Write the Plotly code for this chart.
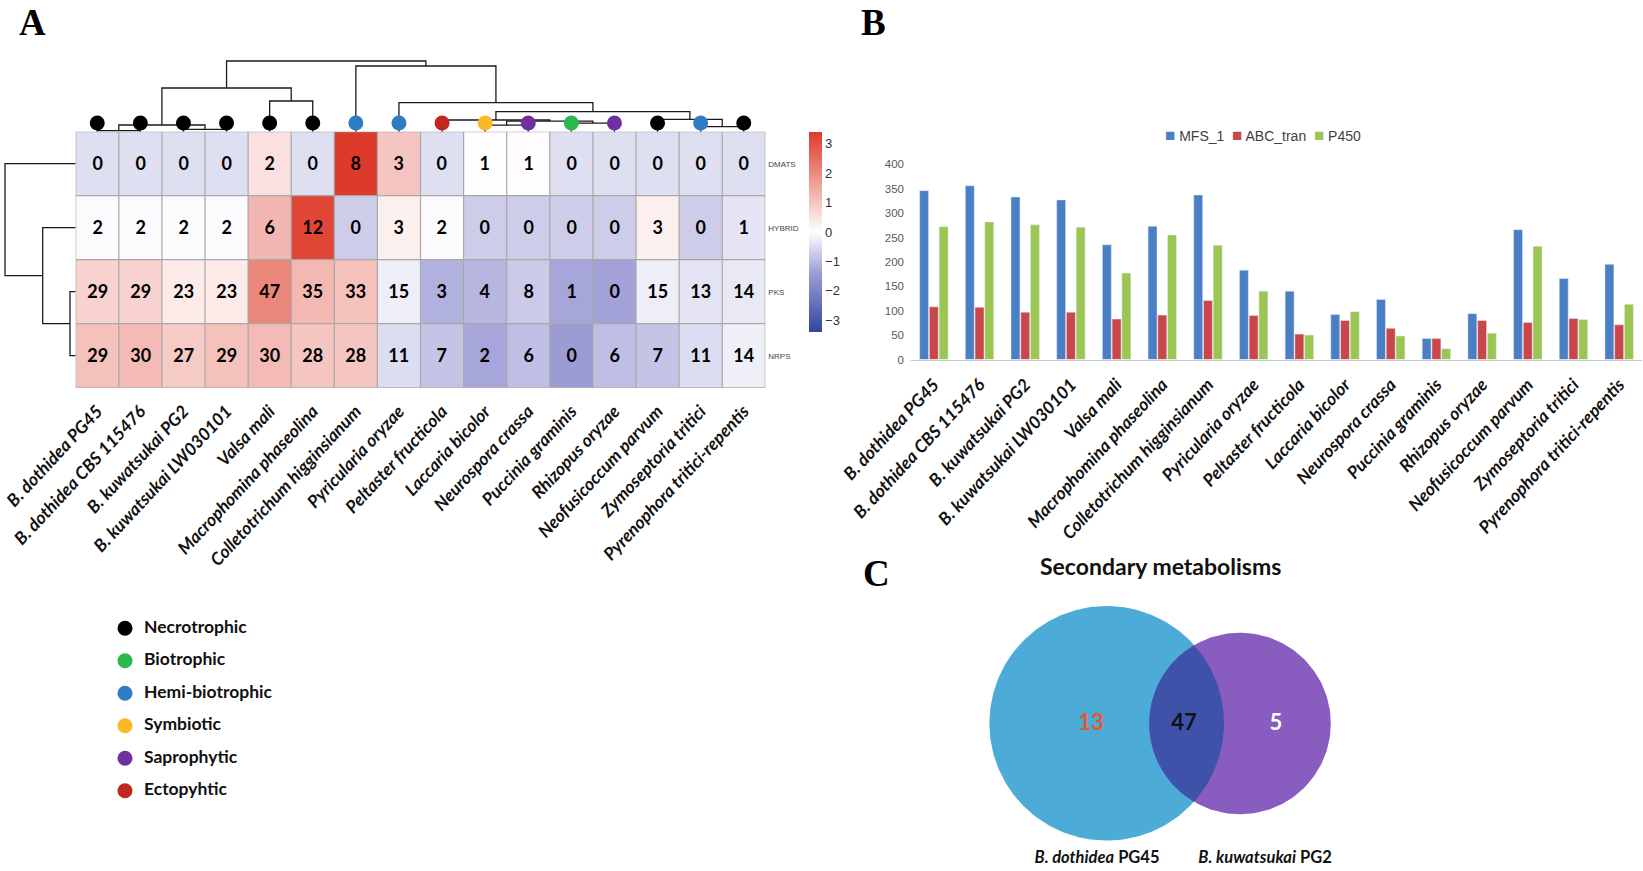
import numpy as np
import plotly.graph_objects as go

W, H = 1643, 871

species = ["B. dothidea PG45", "B. dothidea CBS 115476", "B. kuwatsukai PG2",
           "B. kuwatsukai LW030101", "Valsa mali", "Macrophomina phaseolina",
           "Colletotrichum higginsianum", "Pyricularia oryzae", "Peltaster fructicola",
           "Laccaria bicolor", "Neurospora crassa", "Puccinia graminis",
           "Rhizopus oryzae", "Neofusicoccum parvum", "Zymoseptoria tritici",
           "Pyrenophora tritici-repentis"]

# secondary metabolite clusters (panel A)
sm_types = ["DMATS", "HYBRID", "PKS", "NRPS"]
dmats = [0, 0, 0, 0, 2, 0, 8, 3, 0, 1, 1, 0, 0, 0, 0, 0]
hybrid = [2, 2, 2, 2, 6, 12, 0, 3, 2, 0, 0, 0, 0, 3, 0, 1]
pks = [29, 29, 23, 23, 47, 35, 33, 15, 3, 4, 8, 1, 0, 15, 13, 14]
nrps = [29, 30, 27, 29, 30, 28, 28, 11, 7, 2, 6, 0, 6, 7, 11, 14]

lifestyle = ["Necrotrophic"] * 6 + ["Hemi-biotrophic", "Hemi-biotrophic", "Ectopyhtic",
             "Symbiotic", "Saprophytic", "Biotrophic", "Saprophytic", "Necrotrophic",
             "Hemi-biotrophic", "Necrotrophic"]
lifestyle_names = ["Necrotrophic", "Biotrophic", "Hemi-biotrophic", "Symbiotic",
                   "Saprophytic", "Ectopyhtic"]
lifestyle_colors = {"Necrotrophic": "#000000", "Biotrophic": "#2DB84B",
                    "Hemi-biotrophic": "#2F7BC4", "Symbiotic": "#FBB829",
                    "Saprophytic": "#7030A0", "Ectopyhtic": "#C0281E"}

# dendrograms: (child a, child b, height); ids >= n_leaves are earlier merges
col_merges = [(0, 1, 1.0), (2, 3, 2.4), (16, 17, 6.7), (4, 5, 30.7), (18, 19, 43.7),
              (9, 10, 6.5), (11, 12, 8.5), (21, 22, 10.5), (8, 23, 11.7),
              (14, 15, 5.0), (13, 25, 12.4), (24, 26, 20.0), (7, 27, 29.0),
              (6, 28, 65.7), (20, 29, 70.7)]
row_merges = [(2, 3, 5.7), (1, 4, 33.0), (0, 5, 70.7)]

# panel B
gene_families = ["MFS_1", "ABC_tran", "P450"]
mfs_1 = [346, 356, 333, 327, 235, 273, 337, 183, 140, 92, 123, 43, 94, 266, 166, 195]
abc_tran = [108, 107, 97, 97, 83, 91, 121, 90, 52, 80, 64, 43, 80, 76, 84, 71]
p450 = [272, 282, 276, 271, 177, 255, 234, 140, 50, 98, 48, 22, 54, 232, 82, 113]
bar_colors = ["#4A7FC6", "#C9474A", "#9BC653"]

# panel C
venn_sets = ["<b><i>B. dothidea</i> PG45</b>", "<b><i>B. kuwatsukai</i> PG2</b>"]
venn_counts = [13, 47, 5]


def fx(p):
    return p / W


def fy(p):
    return 1 - p / H


def dendro_lines(merges, n):
    pos = {i: float(i) for i in range(n)}
    hgt = {i: 0.0 for i in range(n)}
    xs, ys = [], []
    for k, (a, b, h) in enumerate(merges):
        xs += [pos[a], pos[a], pos[b], pos[b], None]
        ys += [hgt[a], h, h, hgt[b], None]
        pos[n + k] = (pos[a] + pos[b]) / 2
        hgt[n + k] = h
    return xs, ys


counts = np.array([dmats, hybrid, pks, nrps], dtype=float)
z = (counts - counts.mean(axis=1, keepdims=True)) / counts.std(axis=1, ddof=1, keepdims=True)
zmax = np.abs(z).max()

HM_L, HM_R, HM_T, HM_B = 75.7, 765.3, 131.7, 387.7
ncol, nrow = len(species), len(sm_types)

fig = go.Figure()

fig.add_trace(go.Heatmap(
    z=z, x=list(range(ncol)), y=list(range(nrow)),
    text=counts.astype(int), texttemplate="%{text}",
    textfont=dict(family="Lato", size=18, color="black", weight="bold"),
    zmin=-zmax, zmax=zmax,
    colorscale=[[0, "#31479E"], [0.3, "#A09FD7"], [0.5, "#FFFFFF"], [1, "#DE3A29"]],
    colorbar=dict(x=fx(809), xanchor="left", y=fy(232), yanchor="middle",
                  len=200 / H, thickness=13, outlinewidth=0, xpad=0, ypad=0,
                  tickvals=[-3, -2, -1, 0, 1, 2, 3], ticks="",
                  tickfont=dict(family="Liberation Sans", size=13, color="#333")),
    hoverinfo="skip", xaxis="x", yaxis="y"))

# cell borders
gx, gy = [], []
for c in range(ncol + 1):
    gx += [c - 0.5, c - 0.5, None]
    gy += [-0.5, nrow - 0.5, None]
for r in range(nrow + 1):
    gx += [-0.5, ncol - 0.5, None]
    gy += [r - 0.5, r - 0.5, None]
fig.add_trace(go.Scatter(x=gx, y=gy, mode="lines", line=dict(color="#A8A8A8", width=1.2),
                         hoverinfo="skip", showlegend=False, xaxis="x", yaxis="y"))

# column dendrogram + lifestyle dots
dx, dy = dendro_lines(col_merges, ncol)
fig.add_trace(go.Scatter(x=dx, y=dy, mode="lines", line=dict(color="#1a1a1a", width=1.3),
                         hoverinfo="skip", showlegend=False, xaxis="x", yaxis="y2"))
fig.add_trace(go.Scatter(x=list(range(ncol)), y=[8.7] * ncol, mode="markers",
                         marker=dict(size=15, color=[lifestyle_colors[s] for s in lifestyle]),
                         hoverinfo="skip", showlegend=False, xaxis="x", yaxis="y2"))

# row dendrogram
rx, ry = dendro_lines(row_merges, nrow)
fig.add_trace(go.Scatter(x=ry, y=rx, mode="lines", line=dict(color="#1a1a1a", width=1.3),
                         hoverinfo="skip", showlegend=False, xaxis="x6", yaxis="y"))

# lifestyle legend
fig.add_trace(go.Scatter(x=[25] * len(lifestyle_names), y=list(range(len(lifestyle_names))),
                         mode="markers",
                         marker=dict(size=15, color=[lifestyle_colors[s] for s in lifestyle_names]),
                         hoverinfo="skip", showlegend=False, xaxis="x3", yaxis="y3"))
fig.add_trace(go.Scatter(x=[44] * len(lifestyle_names), y=list(range(len(lifestyle_names))),
                         mode="text", text=lifestyle_names, textposition="middle right",
                         textfont=dict(family="Lato", size=17.5, color="#111", weight="bold"),
                         hoverinfo="skip", showlegend=False, xaxis="x3", yaxis="y3"))

# panel B bars
for name, vals, col in zip(gene_families, [mfs_1, abc_tran, p450], bar_colors):
    fig.add_trace(go.Bar(x=species, y=vals, name=name, marker_color=col,
                         showlegend=False, xaxis="x4", yaxis="y4"))
bar_legend = "  ".join(f"<span style='color:{c};font-size:17px'>■</span> {n}"
                       for n, c in zip(gene_families, bar_colors))

# panel C venn
th = np.linspace(0, 2 * np.pi, 240)
ax_, ay_, ar = 1106.7, 723.3, 117.3
bx_, by_, br = 1240.0, 723.5, 90.8
d = bx_ - ax_
a = (ar ** 2 - br ** 2 + d ** 2) / (2 * d)
hh = np.sqrt(ar ** 2 - a ** 2)
pa = np.arctan2(hh, a)
pb = np.arctan2(hh, d - a)
ta = np.linspace(-pa, pa, 80)
tb = np.linspace(np.pi - pb, np.pi + pb, 80)
lens_x = np.concatenate([ax_ + ar * np.cos(ta), bx_ + br * np.cos(tb)])
lens_y = np.concatenate([ay_ + ar * np.sin(ta), by_ + br * np.sin(tb)])
for xs, ys, col in [(ax_ + ar * np.cos(th), ay_ + ar * np.sin(th), "#4DABD8"),
                    (bx_ + br * np.cos(th), by_ + br * np.sin(th), "#895CBF"),
                    (lens_x, lens_y, "#3F52A9")]:
    fig.add_trace(go.Scatter(x=xs, y=ys, mode="lines", fill="toself", fillcolor=col,
                             line=dict(width=0, color=col), hoverinfo="skip",
                             showlegend=False, xaxis="x5", yaxis="y5"))
fig.add_trace(go.Scatter(x=[1091, 1184, 1276], y=[724] * 3, mode="text",
                         text=[str(v) for v in venn_counts],
                         textfont=dict(family="Lato", size=22, weight="bold",
                                       color=["#E4572E", "#111111", "#FFFFFF"]),
                         hoverinfo="skip", showlegend=False, xaxis="x5", yaxis="y5"))
fig.add_trace(go.Scatter(x=[1097, 1265], y=[859] * 2, mode="text", text=venn_sets,
                         textfont=dict(family="Lato", size=16.5, color="#111"),
                         hoverinfo="skip", showlegend=False, xaxis="x5", yaxis="y5"))

hidden = dict(visible=False, showgrid=False, zeroline=False)
label_font = dict(family="Lato", size=17.5, color="#111", style="italic", weight="bold")
letter_font = dict(family="Liberation Serif", size=37, color="black")

fig.update_layout(
    width=W, height=H, margin=dict(l=0, r=0, t=0, b=0, autoexpand=False),
    paper_bgcolor="white", plot_bgcolor="white", showlegend=False,
    barmode="group", bargap=0.36, bargroupgap=0.08,
    xaxis=dict(domain=[fx(HM_L), fx(HM_R)], range=[-0.5, ncol - 0.5], anchor="y",
               tickvals=list(range(ncol)), ticktext=species, tickangle=-47,
               tickfont=label_font, ticks="", showgrid=False, zeroline=False,
               ticklabelstandoff=9, automargin=False),
    yaxis=dict(domain=[fy(HM_B), fy(HM_T)], range=[nrow - 0.5, -0.5], anchor="x",
               side="right", tickvals=list(range(nrow)), ticktext=sm_types, ticks="",
               tickfont=dict(family="Liberation Sans", size=8, color="#444"),
               showgrid=False, zeroline=False, ticklabelstandoff=2, automargin=False),
    yaxis2=dict(domain=[fy(HM_T), fy(HM_T - 75)], range=[0, 75], anchor="x", **hidden),
    xaxis6=dict(domain=[0, fx(HM_L)], range=[HM_L, 0], anchor="y", **hidden),
    xaxis3=dict(domain=[fx(100), fx(400)], range=[0, 300], anchor="y3", **hidden),
    yaxis3=dict(domain=[fy(807), fy(612)], range=[5.5, -0.5], anchor="x3", **hidden),
    xaxis4=dict(domain=[fx(911), fx(1642)], anchor="y4", tickangle=-47, tickfont=label_font,
                ticks="", showline=True, linecolor="#C8C8C8", showgrid=False,
                ticklabelstandoff=7, automargin=False),
    yaxis4=dict(domain=[fy(359.5), fy(164.3)], range=[0, 400], dtick=50, anchor="x4",
                showgrid=False, zeroline=False, ticks="", ticklabelstandoff=6,
                tickfont=dict(family="Liberation Sans", size=11.5, color="#595959"),
                automargin=False),
    xaxis5=dict(domain=[fx(950), fx(1400)], range=[950, 1400], anchor="y5", **hidden),
    yaxis5=dict(domain=[fy(870), fy(590)], range=[870, 590], anchor="x5", **hidden),
    annotations=[
        dict(text="<b>A</b>", x=fx(32), y=1, xref="paper", yref="paper",
             xanchor="center", yanchor="top", showarrow=False, font=letter_font),
        dict(text="<b>B</b>", x=fx(873), y=1, xref="paper", yref="paper",
             xanchor="center", yanchor="top", showarrow=False, font=letter_font),
        dict(text="<b>C</b>", x=fx(876), y=fy(573), xref="paper", yref="paper",
             xanchor="center", yanchor="middle", showarrow=False, font=letter_font),
        dict(text="<b>Secondary metabolisms</b>", x=fx(1160), y=fy(566), xref="paper",
             yref="paper", xanchor="center", yanchor="middle", showarrow=False,
             font=dict(family="Lato", size=23, color="#111")),
        dict(text=bar_legend, x=fx(1263), y=fy(136), xref="paper", yref="paper",
             xanchor="center", yanchor="middle", showarrow=False,
             font=dict(family="Liberation Sans", size=14, color="#404040")),
    ],
)

fig.write_html("out.html", config={"displayModeBar": False},
               post_script="document.body.style.margin = '0';")
